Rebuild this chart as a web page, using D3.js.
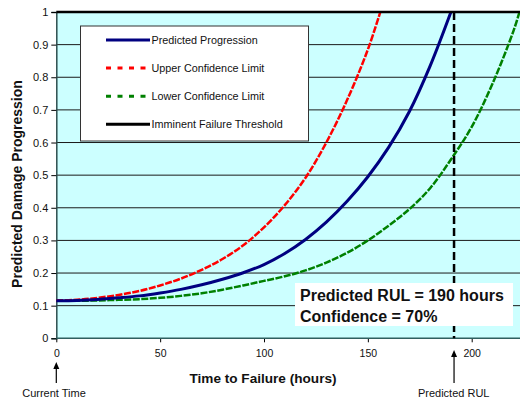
<!DOCTYPE html>
<html>
<head>
<meta charset="utf-8">
<script src="https://cdn.jsdelivr.net/npm/d3@7.9.0/dist/d3.min.js"></script>
<style>
  body { margin: 0; background: #fff; }
  svg { display: block; font-family: "Liberation Sans", Arial, sans-serif; }
</style>
</head>
<body>
<svg id="chart" width="520" height="399"></svg>
<script>
// hours and damage values
const upperHours = [0, 10, 20, 30, 40, 50, 60, 70, 80, 90, 100, 110, 120, 130, 140, 150, 156];
const upperValues = [0.116, 0.118, 0.124, 0.133, 0.145, 0.162, 0.183, 0.21, 0.243, 0.285, 0.34, 0.408, 0.492, 0.6, 0.73, 0.885, 1.0];

const predHours = [0, 10, 20, 30, 40, 50, 60, 70, 80, 90, 100, 110, 120, 130, 140, 150, 160, 170, 180, 190];
const predValues = [0.115, 0.116, 0.119, 0.124, 0.13, 0.139, 0.15, 0.164, 0.181, 0.201, 0.226, 0.26, 0.303, 0.356, 0.42, 0.495, 0.585, 0.695, 0.835, 1.0];

const lowerHours = [0, 10, 20, 30, 40, 50, 60, 70, 80, 90, 100, 110, 120, 130, 140, 150, 160, 170, 180, 190, 200, 210, 220, 223];
const lowerValues = [0.115, 0.115, 0.116, 0.118, 0.12, 0.124, 0.13, 0.138, 0.149, 0.162, 0.176, 0.19, 0.208, 0.232, 0.262, 0.3, 0.345, 0.396, 0.46, 0.548, 0.648, 0.78, 0.94, 1.0];

const xTicks = [0, 50, 100, 150, 200];
const yTicks = [0, 0.1, 0.2, 0.3, 0.4, 0.5, 0.6, 0.7, 0.8, 0.9, 1];
const threshold = 1;
const rulMarker = 191.5;   // where the dashed line sits
const legendLabels = ["Predicted Progression", "Upper Confidence Limit", "Lower Confidence Limit", "Imminent Failure Threshold"];

const svg = d3.select("#chart");
const W = 520, H = 399;

let x = d3.scaleLinear().domain([0, 250]).range([56.3, 56.3 + 250 * 2.077]);
let y = d3.scaleLinear().domain([0, 1]).range([338.3, 12]);

// plot area (runs off the right edge like the original)
svg.append("rect")
  .attr("x", x(0)).attr("y", y(1))
  .attr("width", W - x(0)).attr("height", y(0) - y(1))
  .attr("fill", "#ccffff");

// gridlines
svg.append("g").selectAll("line")
  .data(yTicks.filter((d) => d > 0 && d < 1))
  .join("line")
  .attr("x1", x(0)).attr("x2", W)
  .attr("y1", (d) => y(d)).attr("y2", (d) => y(d))
  .attr("stroke", "#1a1a1a").attr("stroke-width", 1);

// axes
let yAxis = svg.append("g")
  .attr("transform", `translate(${x(0)},0)`)
  .call(d3.axisLeft(y).tickValues(yTicks).tickSize(5).tickPadding(3).tickFormat((d) => d3.format("")(d)));
yAxis.select(".domain").attr("stroke", "#2f4f4f").attr("stroke-width", 1.5);
yAxis.selectAll("text").attr("font-size", 11).attr("fill", "#111").attr("font-family", "Liberation Sans, Arial, sans-serif");

let xAxis = svg.append("g")
  .attr("transform", `translate(0,${y(0)})`)
  .call(d3.axisBottom(x).tickValues(xTicks).tickSize(4).tickPadding(7));
xAxis.select(".domain").remove();
xAxis.append("line").attr("x1", x(0)).attr("x2", W).attr("stroke", "#2f5f5f").attr("stroke-width", 1.5);
xAxis.selectAll("text").attr("font-size", 10.5).attr("fill", "#111").attr("font-family", "Liberation Sans, Arial, sans-serif");

// curves
const line = d3.line().x((d) => x(d[0])).y((d) => y(d[1])).curve(d3.curveCatmullRom.alpha(0.5));
svg.append("path")
  .datum(d3.zip(lowerHours, lowerValues))
  .attr("d", line).attr("fill", "none")
  .attr("stroke", "#008000").attr("stroke-width", 2.5).attr("stroke-dasharray", "7,1.5");
svg.append("path")
  .datum(d3.zip(upperHours, upperValues))
  .attr("d", line).attr("fill", "none")
  .attr("stroke", "#ff0000").attr("stroke-width", 2.5).attr("stroke-dasharray", "7,1.5");
svg.append("path")
  .datum(d3.zip(predHours, predValues))
  .attr("d", line).attr("fill", "none")
  .attr("stroke", "#000080").attr("stroke-width", 3);

// failure threshold
svg.append("line")
  .attr("x1", x(0)).attr("x2", W)
  .attr("y1", y(threshold)).attr("y2", y(threshold))
  .attr("stroke", "#000").attr("stroke-width", 2.5);

// predicted RUL marker
svg.append("line")
  .attr("x1", x(rulMarker)).attr("x2", x(rulMarker))
  .attr("y1", y(1)).attr("y2", y(0))
  .attr("stroke", "#000").attr("stroke-width", 2.5).attr("stroke-dasharray", "8,4");

// legend
let lg = svg.append("g");
lg.append("rect")
  .attr("x", 80.5).attr("y", 26).attr("width", 228).attr("height", 115)
  .attr("fill", "#fff").attr("stroke", "#333").attr("stroke-width", 1);
const legendStyles = [
  { color: "#000080", dash: null },
  { color: "#ff0000", dash: "5,6.5" },
  { color: "#008000", dash: "5,6.5" },
  { color: "#000", dash: null },
];
legendLabels.forEach((label, i) => {
  let ly = 40 + i * 28.1;
  lg.append("line")
    .attr("x1", 106).attr("x2", 150).attr("y1", ly).attr("y2", ly)
    .attr("stroke", legendStyles[i].color).attr("stroke-width", 3)
    .attr("stroke-dasharray", legendStyles[i].dash);
  lg.append("text")
    .attr("x", 151.5).attr("y", ly + 4)
    .attr("font-size", 10.8).attr("fill", "#111")
    .text(label);
});

// result box
svg.append("rect")
  .attr("x", 295).attr("y", 283).attr("width", 218).attr("height", 43)
  .attr("fill", "#fff");
svg.append("text")
  .attr("x", 300).attr("y", 301)
  .attr("font-size", 16).attr("font-weight", "bold").attr("fill", "#111")
  .text("Predicted RUL = 190 hours");
svg.append("text")
  .attr("x", 300).attr("y", 322)
  .attr("font-size", 16).attr("font-weight", "bold").attr("fill", "#111")
  .text("Confidence = 70%");

// axis titles
svg.append("text")
  .attr("x", 263).attr("y", 383)
  .attr("text-anchor", "middle")
  .attr("font-size", 13.6).attr("font-weight", "bold").attr("fill", "#111")
  .text("Time to Failure (hours)");
svg.append("text")
  .attr("transform", "translate(21.5,184) rotate(-90)")
  .attr("text-anchor", "middle")
  .attr("font-size", 14).attr("font-weight", "bold").attr("fill", "#111")
  .text("Predicted Damage Progression");

// bottom annotations with arrows
function arrow(cx, top, bottom) {
  svg.append("line")
    .attr("x1", cx).attr("x2", cx).attr("y1", top + 5).attr("y2", bottom)
    .attr("stroke", "#000").attr("stroke-width", 1.2);
  svg.append("path")
    .attr("d", `M${cx},${top} L${cx - 3},${top + 7} L${cx + 3},${top + 7} Z`)
    .attr("fill", "#000");
}
arrow(x(0), 362, 383);
arrow(x(rulMarker), 350, 383);
svg.append("text")
  .attr("x", 54).attr("y", 396.5)
  .attr("text-anchor", "middle").attr("font-size", 11).attr("fill", "#111")
  .text("Current Time");
svg.append("text")
  .attr("x", 453.7).attr("y", 396.5)
  .attr("text-anchor", "middle").attr("font-size", 11).attr("fill", "#111")
  .text("Predicted RUL");
</script>
</body>
</html>
